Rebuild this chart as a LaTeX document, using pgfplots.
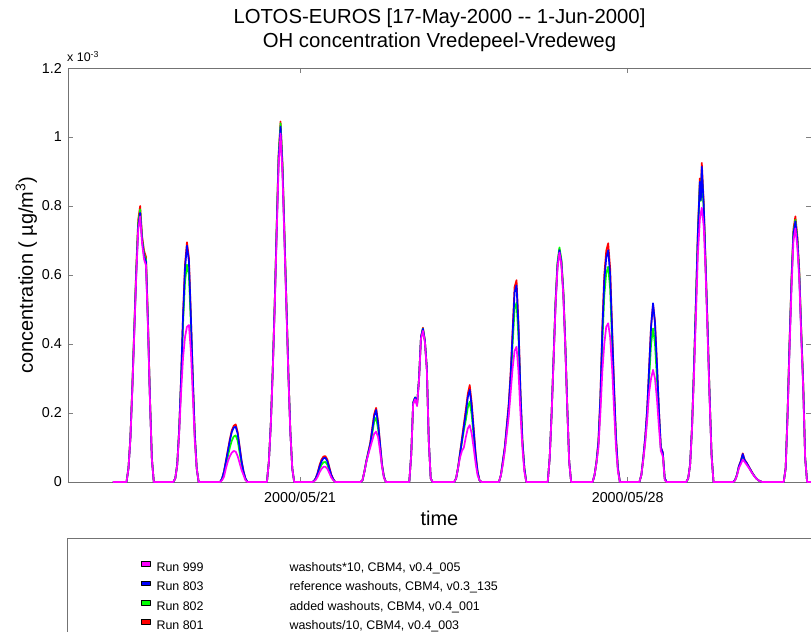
\documentclass[border=0pt]{standalone}
\usepackage{fontspec}
\setmainfont{Liberation Sans}
\usepackage{pgfplots}
\usepackage{pgfplotstable}
\pgfplotsset{compat=1.18}
\definecolor{mred}{RGB}{255,0,0}
\definecolor{mgreen}{RGB}{0,255,0}
\definecolor{mblue}{RGB}{0,0,255}
\definecolor{mmag}{RGB}{255,0,255}

\pgfplotstableread{
t r g b m
0 0 0 0 0
7 0 0 0 0
8 .040 .040 .039 .038
9 .130 .128 .127 .125
10 .280 .277 .273 .270
11 .450 .445 .439 .433
12 .620 .612 .605 .597
13 .760 .750 .741 .731
14 .800 .790 .780 .770
15 .712 .705 .700 .690
16 .670 .662 .655 .645
17 .653 .645 .638 .628
18 .470 .465 .458 .450
19 .250 .247 .244 .240
20 .070 .069 .068 .066
21 0 0 0 0
31 0 0 0 0
32 .010 .010 .010 .010
33 .051 .050 .050 .048
34 .152 .148 .150 .140
35 .303 .290 .300 .260
36 .485 .460 .480 .360
37 .630 .580 .620 .420
38 .695 .630 .685 .450
39 .650 .600 .640 .455
40 .485 .460 .480 .380
41 .303 .290 .300 .250
42 .141 .130 .140 .120
43 .040 .040 .040 .040
44 0 0 0 0
55 0 0 0 0
56 .010 .009 .010 .005
57 .031 .028 .030 .015
58 .062 .055 .060 .040
59 .093 .075 .090 .060
60 .124 .100 .120 .075
61 .150 .120 .145 .085
62 .163 .132 .158 .090
63 .167 .135 .160 .088
64 .145 .120 .140 .075
65 .103 .085 .100 .055
66 .062 .052 .060 .035
67 .031 .026 .030 .020
68 .010 .009 .010 .005
69 0 0 0 0
79 0 0 0 0
80 .060 .060 .059 .058
81 .170 .169 .168 .165
82 .330 .328 .326 .320
83 .520 .517 .513 .503
84 .740 .736 .730 .716
85 .950 .945 .936 .918
86 1.045 1.040 1.030 1.010
87 .920 .915 .907 .889
88 .720 .716 .710 .696
89 .520 .517 .513 .503
90 .320 .318 .316 .309
91 .150 .149 .148 .145
92 .040 .040 .039 .039
93 0 0 0 0
102 0 0 0 0
103 .002 .002 .002 .001
104 .011 .009 .010 .006
105 .027 .021 .025 .015
106 .049 .038 .045 .028
107 .065 .050 .060 .038
108 .074 .057 .069 .044
109 .075 .058 .070 .044
110 .065 .050 .060 .038
111 .043 .033 .040 .026
112 .022 .017 .020 .013
113 .009 .007 .008 .005
114 0 0 0 0
127 0 0 0 0
128 .005 .005 .005 .005
129 .031 .030 .030 .030
130 .062 .060 .060 .058
131 .088 .085 .085 .080
132 .114 .108 .110 .100
133 .156 .140 .150 .120
134 .197 .175 .190 .140
135 .215 .186 .209 .146
136 .176 .155 .170 .130
137 .114 .102 .110 .090
138 .052 .048 .050 .045
139 .016 .015 .015 .012
140 0 0 0 0
152 0 0 0 0
153 .080 .080 .080 .078
154 .230 .230 .230 .226
155 .245 .245 .245 .240
156 .225 .225 .225 .220
157 .300 .300 .300 .295
158 .420 .420 .420 .415
159 .447 .445 .444 .438
160 .410 .410 .410 .405
161 .330 .330 .330 .325
162 .120 .120 .120 .118
163 .010 .010 .010 .010
164 0 0 0 0
175 0 0 0 0
176 .010 .010 .010 .010
177 .042 .040 .040 .040
178 .084 .078 .080 .070
179 .126 .115 .120 .090
180 .168 .150 .160 .100
181 .210 .180 .200 .130
182 .255 .215 .245 .155
183 .281 .233 .267 .165
184 .230 .195 .220 .140
185 .158 .135 .150 .100
186 .084 .070 .080 .055
187 .032 .028 .030 .020
188 .005 .005 .005 .005
189 0 0 0 0
198 0 0 0 0
199 .021 .020 .020 .020
200 .062 .058 .060 .050
201 .103 .095 .100 .090
202 .165 .150 .160 .140
203 .227 .205 .220 .190
204 .320 .290 .310 .260
205 .440 .400 .430 .330
206 .565 .500 .550 .380
207 .585 .520 .570 .392
208 .460 .420 .450 .320
209 .265 .245 .260 .200
210 .123 .115 .120 .100
211 .041 .040 .040 .030
212 0 0 0 0
223 0 0 0 0
224 .070 .070 .070 .068
225 .200 .200 .200 .196
226 .360 .362 .358 .352
227 .520 .524 .517 .510
228 .630 .636 .628 .620
229 .675 .680 .672 .665
230 .640 .645 .637 .630
231 .550 .555 .548 .540
232 .400 .404 .398 .392
233 .220 .222 .219 .215
234 .060 .060 .060 .058
235 0 0 0 0
246 0 0 0 0
247 .020 .020 .020 .020
248 .060 .057 .058 .055
249 .120 .110 .116 .100
250 .250 .225 .243 .200
251 .450 .405 .437 .320
252 .600 .540 .583 .400
253 .670 .605 .650 .450
254 .692 .624 .672 .460
255 .620 .560 .602 .420
256 .450 .405 .437 .330
257 .280 .252 .272 .210
258 .130 .117 .126 .100
259 .040 .036 .039 .030
260 0 0 0 0
270 0 0 0 0
271 .020 .020 .020 .020
272 .071 .068 .070 .065
273 .131 .120 .130 .115
274 .212 .190 .210 .180
275 .333 .300 .330 .260
276 .454 .400 .450 .300
277 .515 .445 .518 .325
278 .465 .400 .460 .300
279 .343 .300 .340 .240
280 .212 .190 .210 .160
281 .101 .095 .100 .090
282 .086 .080 .085 .075
283 .010 .010 .010 .005
284 0 0 0 0
294 0 0 0 0
295 .010 .010 .010 .010
296 .050 .050 .050 .048
297 .162 .160 .160 .155
298 .333 .330 .330 .310
299 .525 .520 .520 .480
300 .727 .715 .720 .660
301 .880 .865 .870 .760
301.5 .830 .815 .817 .780
302 .925 .895 .914 .795
303 .808 .790 .800 .740
304 .626 .615 .620 .600
305 .444 .440 .440 .420
306 .253 .250 .250 .240
307 .081 .080 .080 .075
308 0 0 0 0
318 0 0 0 0
319 .005 .005 .005 .004
320 .020 .019 .020 .018
321 .046 .043 .045 .040
322 .061 .057 .060 .052
323 .083 .075 .081 .065
324 .064 .060 .063 .058
325 .056 .053 .055 .050
326 .046 .044 .045 .042
327 .036 .034 .035 .033
328 .026 .025 .025 .024
329 .017 .017 .017 .016
330 .010 .010 .010 .010
331 .005 .005 .005 .005
332 .002 .002 .002 .002
333 0 0 0 0
344 0 0 0 0
345 .041 .040 .040 .038
346 .204 .200 .200 .190
347 .408 .400 .400 .385
348 .590 .585 .580 .560
349 .734 .725 .720 .700
350 .770 .760 .755 .735
351 .713 .705 .700 .680
352 .612 .605 .600 .585
353 .439 .435 .430 .420
354 .286 .282 .280 .270
355 .071 .070 .070 .068
356 0 0 0 0
360 0 0 0 0
}\data

\begin{document}
\begin{tikzpicture}
\begin{axis}[
  name=ax,
  scale only axis, width=743bp, height=414bp,
  xmin=-23, xmax=358, ymin=0, ymax=1.2,
  axis line style={draw=black!55, line width=0.8bp},
  xtick={96,264}, xticklabels={2000/05/21,2000/05/28},
  ytick={0,0.2,0.4,0.6,0.8,1,1.2},
  yticklabels={0,0.2,0.4,0.6,0.8,1,1.2},
  tick align=inside, major tick length=5bp,
  tick style={draw=black!50, line width=0.6bp},
  ticklabel style={font=\fontsize{14.4}{16}\selectfont, inner sep=0pt},
  xticklabel style={anchor=base, yshift=-20bp},
  yticklabel style={anchor=east, xshift=-6bp},
  title={LOTOS-EUROS [17-May-2000 -\kern0pt- 1-Jun-2000]\\OH concentration Vredepeel-Vredeweg},
  title style={at={(axis description cs:0.5,1.0254)}, anchor=south, align=center, inner sep=0pt, font=\fontsize{20.4}{24}\selectfont},
  xlabel={time},
  xlabel style={at={(axis description cs:0.5,-0.1039)}, anchor=base, inner sep=0pt, font=\fontsize{20}{24}\selectfont},
  ylabel={concentration ( µg/m\textsuperscript{3})},
  ylabel style={at={(axis description cs:-0.0472,0.5)}, anchor=base, inner sep=0pt, font=\fontsize{20}{24}\selectfont},
  legend style={at={(axis description cs:-0.0013,-0.1353)}, anchor=north west,
    draw=black!55, line width=0.8bp, font=\fontsize{12.5}{14}\selectfont,
    inner xsep=74bp, inner ysep=23bp, row sep=6bp, column sep=6.4bp,
    nodes={inner sep=0pt, text height=9.5bp, text depth=3bp}},
  legend cell align=left,
  reverse legend,
  legend image code/.code={\draw[#1, line width=0.4bp, draw=black, fill] (0bp,2.2bp) rectangle (8.3bp,6.8bp);},
  every axis plot/.append style={line width=1.7bp, line join=round},
]
\addplot[mred] table[x=t, y=r] {\data};
\addlegendentry{\makebox[133bp][l]{Run 801}\makebox[600bp][l]{washouts/10, CBM4, v0.4\_003}}
\addplot[mgreen] table[x=t, y=g] {\data};
\addlegendentry{\makebox[133bp][l]{Run 802}\makebox[600bp][l]{added washouts, CBM4, v0.4\_001}}
\addplot[mblue] table[x=t, y=b] {\data};
\addlegendentry{\makebox[133bp][l]{Run 803}\makebox[600bp][l]{reference washouts, CBM4, v0.3\_135}}
\addplot[mmag] table[x=t, y=m] {\data};
\addlegendentry{\makebox[133bp][l]{Run 999}\makebox[600bp][l]{washouts*10, CBM4, v0.4\_005}}
\end{axis}
\node[anchor=base west, inner sep=0pt, font=\fontsize{12.5}{14}\selectfont] at ([xshift=-1bp,yshift=6bp]ax.north west) {x 10\textsuperscript{-3}};
\pgfresetboundingbox
\useasboundingbox (-68bp,-150bp) rectangle (743bp,482bp);
\end{tikzpicture}
\end{document}
